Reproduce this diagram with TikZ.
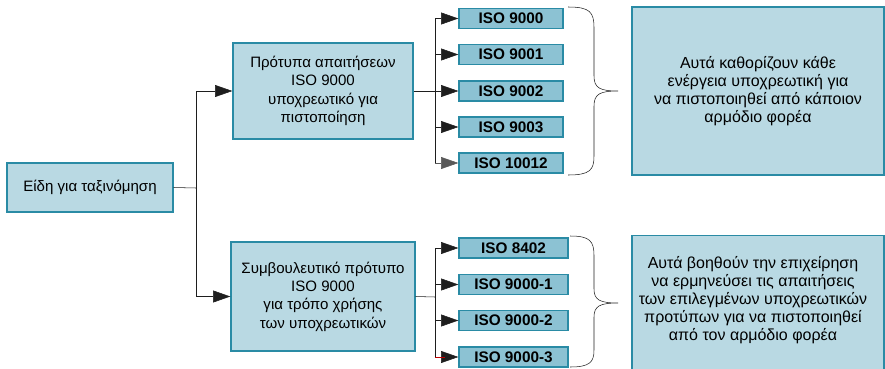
\documentclass[tikz,border=0pt]{standalone}
\usepackage{fontspec}
\setmainfont{Liberation Sans}
\usepackage{xcolor}
\usetikzlibrary{arrows.meta,positioning}
\definecolor{boxfill}{RGB}{185,217,227}
\definecolor{isofill}{RGB}{140,194,211}
\definecolor{boxline}{RGB}{42,139,165}
\definecolor{wire}{RGB}{30,30,30}
\tikzset{
	x=0.75pt, y=-0.75pt,
	>={Triangle[length=13pt,width=9pt]},
	line width=1.1pt,
	wire/.style={draw=wire},
	box/.style={draw=boxline, fill=boxfill, line width=1pt, align=center,
		font=\fontsize{11.3}{13.8}\selectfont, inner sep=2pt},
	iso/.style={draw=boxline, fill=isofill, line width=1pt,
		font=\fontsize{11.5}{12}\selectfont\bfseries, inner sep=0pt,
		minimum height=15pt},
	note/.style={align=center, font=\fontsize{12}{13.5}\selectfont},
}

\begin{document}
\begin{tikzpicture}
	\useasboundingbox (0,0) rectangle (885,368);
	\clip (0,0) rectangle (885,368);

	% left part
	\node[box, minimum width=124.5pt, minimum height=36.75pt] (root) at (90,187.5) {Είδη για ταξινόμηση};
	\node[box, minimum width=135pt, minimum height=72pt] (req) at (323,91)
		{Πρότυπα απαιτήσεων\\ISO 9000\\υποχρεωτικό για\\πιστοποίηση};
	\node[box, minimum width=138pt, minimum height=81.75pt] (adv) at (323,296.5)
		{Συμβουλευτικό πρότυπο\\ISO 9000\\για τρόπο χρήσης\\των υποχρεωτικών};

	\coordinate (trunk) at (196,188);
	\draw[wire] (root.east) -- (trunk);
	\draw[wire,->] (trunk) |- (req.west);
	\draw[wire,->] (trunk) |- (adv.west);

	% ISO boxes
	\node[iso, minimum width=78pt] (i9000) at (511,18.5) {ISO 9000};
	\node[iso, minimum width=78pt] (i9001) at (511,54.5) {ISO 9001};
	\node[iso, minimum width=78pt] (i9002) at (511,91) {ISO 9002};
	\node[iso, minimum width=78pt] (i9003) at (511,127) {ISO 9003};
	\node[iso, minimum width=78pt] (i10012) at (511,163) {ISO 10012};

	\node[iso, minimum width=81.75pt] (i8402) at (513.5,248) {ISO 8402};
	\node[iso, minimum width=81.75pt] (i90001) at (513.5,284.5) {ISO 9000-1};
	\node[iso, minimum width=81.75pt] (i90002) at (513.5,320.5) {ISO 9000-2};
	\node[iso, minimum width=81.75pt] (i90003) at (513.5,357) {ISO 9000-3};

	\coordinate (forkA) at (435,91);
	\draw[wire] (req.east) -- (forkA);
	\foreach \n in {i9000,i9001,i9002,i9003}
		\draw[wire,->] (forkA) |- (\n.west);
	\draw[wire] (forkA) -- (forkA |- i10012.west);
	\draw[->,draw=gray!70!black] (forkA |- i10012.west) -- (i10012.west);

	\coordinate (forkB) at (435,297);
	\draw[wire] (adv.east) -- (forkB);
	\foreach \n in {i8402,i90001,i90002,i90003}
		\draw[wire,->] (forkB) |- (\n.west);
	\draw[draw=red!75!black] (forkB |- i90003.west) -- ++(10,0);

	% braces
	\draw[wire] (568,7) .. controls (590,7) and (594,12) .. (594,28)
		-- (594,76) .. controls (594,88) and (600,91) .. (618,91)
		.. controls (600,91) and (594,94) .. (594,106)
		-- (594,156) .. controls (594,170) and (590,175) .. (568,175);
	\draw[wire] (570,236) .. controls (590,236) and (594,241) .. (594,256)
		-- (594,289) .. controls (594,300) and (600,303) .. (618,303)
		.. controls (600,303) and (594,306) .. (594,317)
		-- (594,350) .. controls (594,362) and (590,367) .. (570,367);

	% notes
	\node[box, note, minimum width=189pt, minimum height=126pt] (desc1) at (758,91)
		{Αυτά καθορίζουν κάθε\\ενέργεια υποχρεωτική για\\να πιστοποιηθεί από κάποιον\\αρμόδιο φορέα};
	\node[box, minimum width=189pt, minimum height=150pt, anchor=north] (desc2) at (758,235) {};
	\node[note] (desc2txt) at (753,300)
		{Αυτά βοηθούν την επιχείρηση\\να ερμηνεύσει τις απαιτήσεις\\των επιλεγμένων υποχρεωτικών\\προτύπων για να πιστοποιηθεί\\από τον αρμόδιο φορέα};
\end{tikzpicture}
\end{document}
